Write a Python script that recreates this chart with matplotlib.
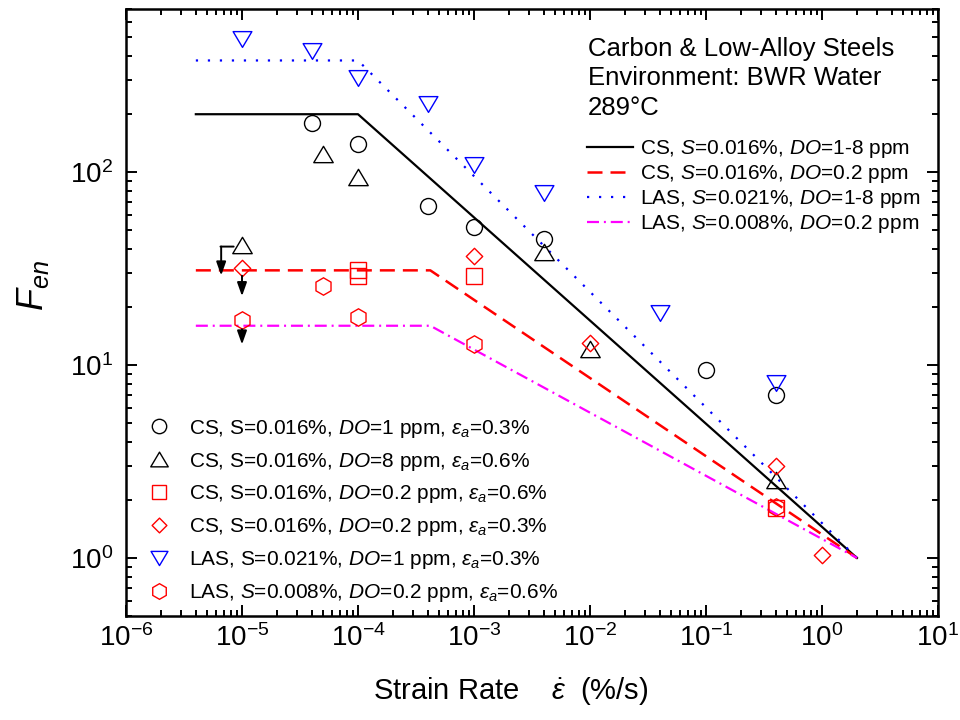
import numpy as np
import matplotlib
matplotlib.use('Agg')
import matplotlib.pyplot as plt
from matplotlib.path import Path
from matplotlib.transforms import offset_copy

plt.rcParams['font.family'] = ['Liberation Sans', 'DejaVu Sans']
plt.rcParams['mathtext.fontset'] = 'custom'
plt.rcParams['mathtext.rm'] = 'Liberation Sans'
plt.rcParams['mathtext.it'] = 'Liberation Sans:italic'
plt.rcParams['mathtext.bf'] = 'Liberation Sans:bold'
plt.rcParams['mathtext.sf'] = 'Liberation Sans'

# ---------------------------------------------------------------------------
# Model lines (Fen vs strain rate)
# ---------------------------------------------------------------------------
cs_hi_x = [4e-6, 1e-4, 2.0]
cs_hi_y = [200, 200, 1.0]
cs_lo_x = [4e-6, 4.2e-4, 2.0]
cs_lo_y = [31, 31, 1.0]
las_hi_x = [4e-6, 1e-4, 2.0]
las_hi_y = [380, 380, 1.0]
las_lo_x = [4e-6, 4.2e-4, 2.0]
las_lo_y = [16, 16, 1.0]

line_labels = [
    'CS, $S$=0.016%, $DO$=1-8 ppm',
    'CS, $S$=0.016%, $DO$=0.2 ppm',
    'LAS, $S$=0.021%, $DO$=1-8 ppm',
    'LAS, $S$=0.008%, $DO$=0.2 ppm',
]

# ---------------------------------------------------------------------------
# Test data
# ---------------------------------------------------------------------------
cs_do1_x = [4e-5, 1e-4, 4e-4, 1e-3, 4e-3, 0.1, 0.4]
cs_do1_y = [180, 140, 67, 52, 45, 9.4, 7.0]

cs_do8_x = [1e-5, 5e-5, 1e-4, 4e-3, 1e-2, 0.4]
cs_do8_y = [42, 124, 95, 38.5, 12.1, 2.55]

cs_do02a_x = [1e-4, 1e-4, 1e-3, 0.4]          # eps_a = 0.6 %
cs_do02a_y = [31, 29, 29, 1.82]

cs_do02b_x = [1e-5, 1e-3, 1e-2, 0.4, 1.0]     # eps_a = 0.3 %
cs_do02b_y = [32, 36.7, 13, 3.0, 1.04]

las_do1_x = [1e-5, 4e-5, 1e-4, 4e-4, 1e-3, 4e-3, 0.04, 0.4]
las_do1_y = [490, 428, 310, 225, 109, 78, 18.6, 8.1]

las_do02_x = [1e-5, 5e-5, 1e-4, 1e-3, 0.4]
las_do02_y = [17.1, 25.6, 17.7, 12.8, 1.84]

point_labels = [
    r'CS, S=0.016%, $DO$=1 ppm, $\varepsilon_a$=0.3%',
    r'CS, S=0.016%, $DO$=8 ppm, $\varepsilon_a$=0.6%',
    r'CS, S=0.016%, $DO$=0.2 ppm, $\varepsilon_a$=0.6%',
    r'CS, S=0.016%, $DO$=0.2 ppm, $\varepsilon_a$=0.3%',
    r'LAS, S=0.021%, $DO$=1 ppm, $\varepsilon_a$=0.3%',
    r'LAS, $S$=0.008%, $DO$=0.2 ppm, $\varepsilon_a$=0.6%',
]

xticks = [1e-6, 1e-5, 1e-4, 1e-3, 1e-2, 1e-1, 1e0, 1e1]
yticks = [1e0, 1e1, 1e2]

# Origin-like open markers (wider triangles)
CL = Path.CLOSEPOLY
MV = Path.MOVETO
LN = Path.LINETO
tri_up = Path([(0, 0.84), (-1, -0.84), (1, -0.84), (0, 0.84)], [MV, LN, LN, CL])
tri_dn = Path([(0, -0.84), (-1, 0.84), (1, 0.84), (0, -0.84)], [MV, LN, LN, CL])
diamond = Path([(0, 1), (1, 0), (0, -1), (-1, 0), (0, 1)], [MV, LN, LN, LN, CL])

fig = plt.figure(figsize=(9.6, 7.2), dpi=100)
ax = fig.add_axes([126 / 960, 1 - 616 / 720, 812 / 960, 606.7 / 720])
ax.set_xscale('log')
ax.set_yscale('log')

# lines
l1, = ax.plot(cs_hi_x, cs_hi_y, color='black', lw=1.6)
l2, = ax.plot(cs_lo_x, cs_lo_y, color='#ff0000', lw=1.8, linestyle=(0, (6, 3.2)))
l3, = ax.plot(las_hi_x, las_hi_y, color='#0000ff', lw=1.6, linestyle=(0, (1, 4.4)))
l4, = ax.plot(las_lo_x, las_lo_y, color='#ff00ff', lw=1.6,
              linestyle=(0, (5.4, 2.2, 0.9, 2.2)))

# points
mk = dict(linestyle='none', markerfacecolor='none', markeredgewidth=1.0)
p1, = ax.plot(cs_do1_x, cs_do1_y, marker='o', ms=11.5, markeredgecolor='black', **mk)
p2, = ax.plot(cs_do8_x, cs_do8_y, marker=tri_up, ms=14, markeredgecolor='black', **mk)
p3, = ax.plot(cs_do02a_x, cs_do02a_y, marker='s', ms=11.5, markeredgecolor='#ff0000', **mk)
p4, = ax.plot(cs_do02b_x, cs_do02b_y, marker=diamond, ms=11.8, markeredgecolor='#ff0000', **mk)
p5, = ax.plot(las_do1_x, las_do1_y, marker=tri_dn, ms=13.5, markeredgecolor='#0000ff', **mk)
p6, = ax.plot(las_do02_x, las_do02_y, marker='h', ms=12.5, markeredgecolor='#ff0000', **mk)


def offset_pt(dx, dy):
    return offset_copy(ax.transData, fig=fig, x=dx, y=dy, units='points')


arrow = dict(arrowstyle='-|>,head_length=0.45,head_width=0.16', mutation_scale=18,
             color='black', lw=1.4, shrinkA=0, shrinkB=0)

# "less than" arrows on the lowest strain-rate points
x0, y0 = cs_do8_x[0], cs_do8_y[0]
ax.annotate('', xy=(x0, y0), xycoords=offset_pt(-15.5, -1.2),
            xytext=(x0, y0), textcoords=offset_pt(-6, -1.2),
            arrowprops=dict(arrowstyle='-', color='black', lw=1.4, shrinkA=0, shrinkB=0))
ax.annotate('', xy=(x0, y0), xycoords=offset_pt(-15, -22),
            xytext=(x0, y0), textcoords=offset_pt(-15, -1.2), arrowprops=arrow)

x0, y0 = cs_do02b_x[0], cs_do02b_y[0]
ax.annotate('', xy=(x0, y0), xycoords=offset_pt(0, -20.5),
            xytext=(x0, y0), textcoords=offset_pt(0, -5.8), arrowprops=arrow)

x0, y0 = las_do02_x[0], las_do02_y[0]
ax.annotate('', xy=(x0, y0), xycoords=offset_pt(0, -17.5),
            xytext=(x0, y0), textcoords=offset_pt(0, -6.5), arrowprops=arrow)

# axes styling
ax.set_xlim(1e-6, 10)
ax.set_ylim(0.5, 700)
ax.set_xticks(xticks)
ax.set_yticks(yticks)
ax.xaxis.set_minor_locator(matplotlib.ticker.LogLocator(base=10, subs=np.arange(2, 10), numticks=20))
ax.xaxis.set_minor_formatter(matplotlib.ticker.NullFormatter())
ax.yaxis.set_minor_formatter(matplotlib.ticker.NullFormatter())
for s in ax.spines.values():
    s.set_linewidth(1.8)
ax.tick_params(which='both', direction='in', top=True, right=True, width=1.4)
ax.tick_params(which='major', length=8, labelsize=20, pad=6)
ax.tick_params(which='minor', length=4.5)
ax.tick_params(axis='y', which='major', pad=9)

fig.text(33 / 960, 1 - 285 / 720, '$F_{en}$', rotation=90, fontsize=26,
         ha='center', va='center')
fig.text(511 / 960, 1 - 691 / 720, r'Strain Rate    $\dot{\varepsilon}$  (%/s)',
         fontsize=21, ha='center', va='center')

ax.text(0.569, 0.955, 'Carbon & Low-Alloy Steels\nEnvironment: BWR Water\n289°C',
        transform=ax.transAxes, fontsize=18.5, va='top', ha='left', linespacing=1.3)

leg1 = ax.legend([l1, l2, l3, l4], line_labels, loc='upper left',
                 bbox_to_anchor=(0.568, 0.788), frameon=False, fontsize=15,
                 handlelength=2.2, handletextpad=0.34, labelspacing=0.15,
                 borderpad=0, borderaxespad=0)
ax.add_artist(leg1)

ax.legend([p1, p2, p3, p4, p5, p6], point_labels, loc='lower left',
          bbox_to_anchor=(0.022, 0.02), frameon=False, fontsize=15,
          handlelength=1.5, handletextpad=0.65, labelspacing=0.52,
          borderpad=0, borderaxespad=0, markerscale=0.9)

fig.savefig('out.png', dpi=100, facecolor='white')
